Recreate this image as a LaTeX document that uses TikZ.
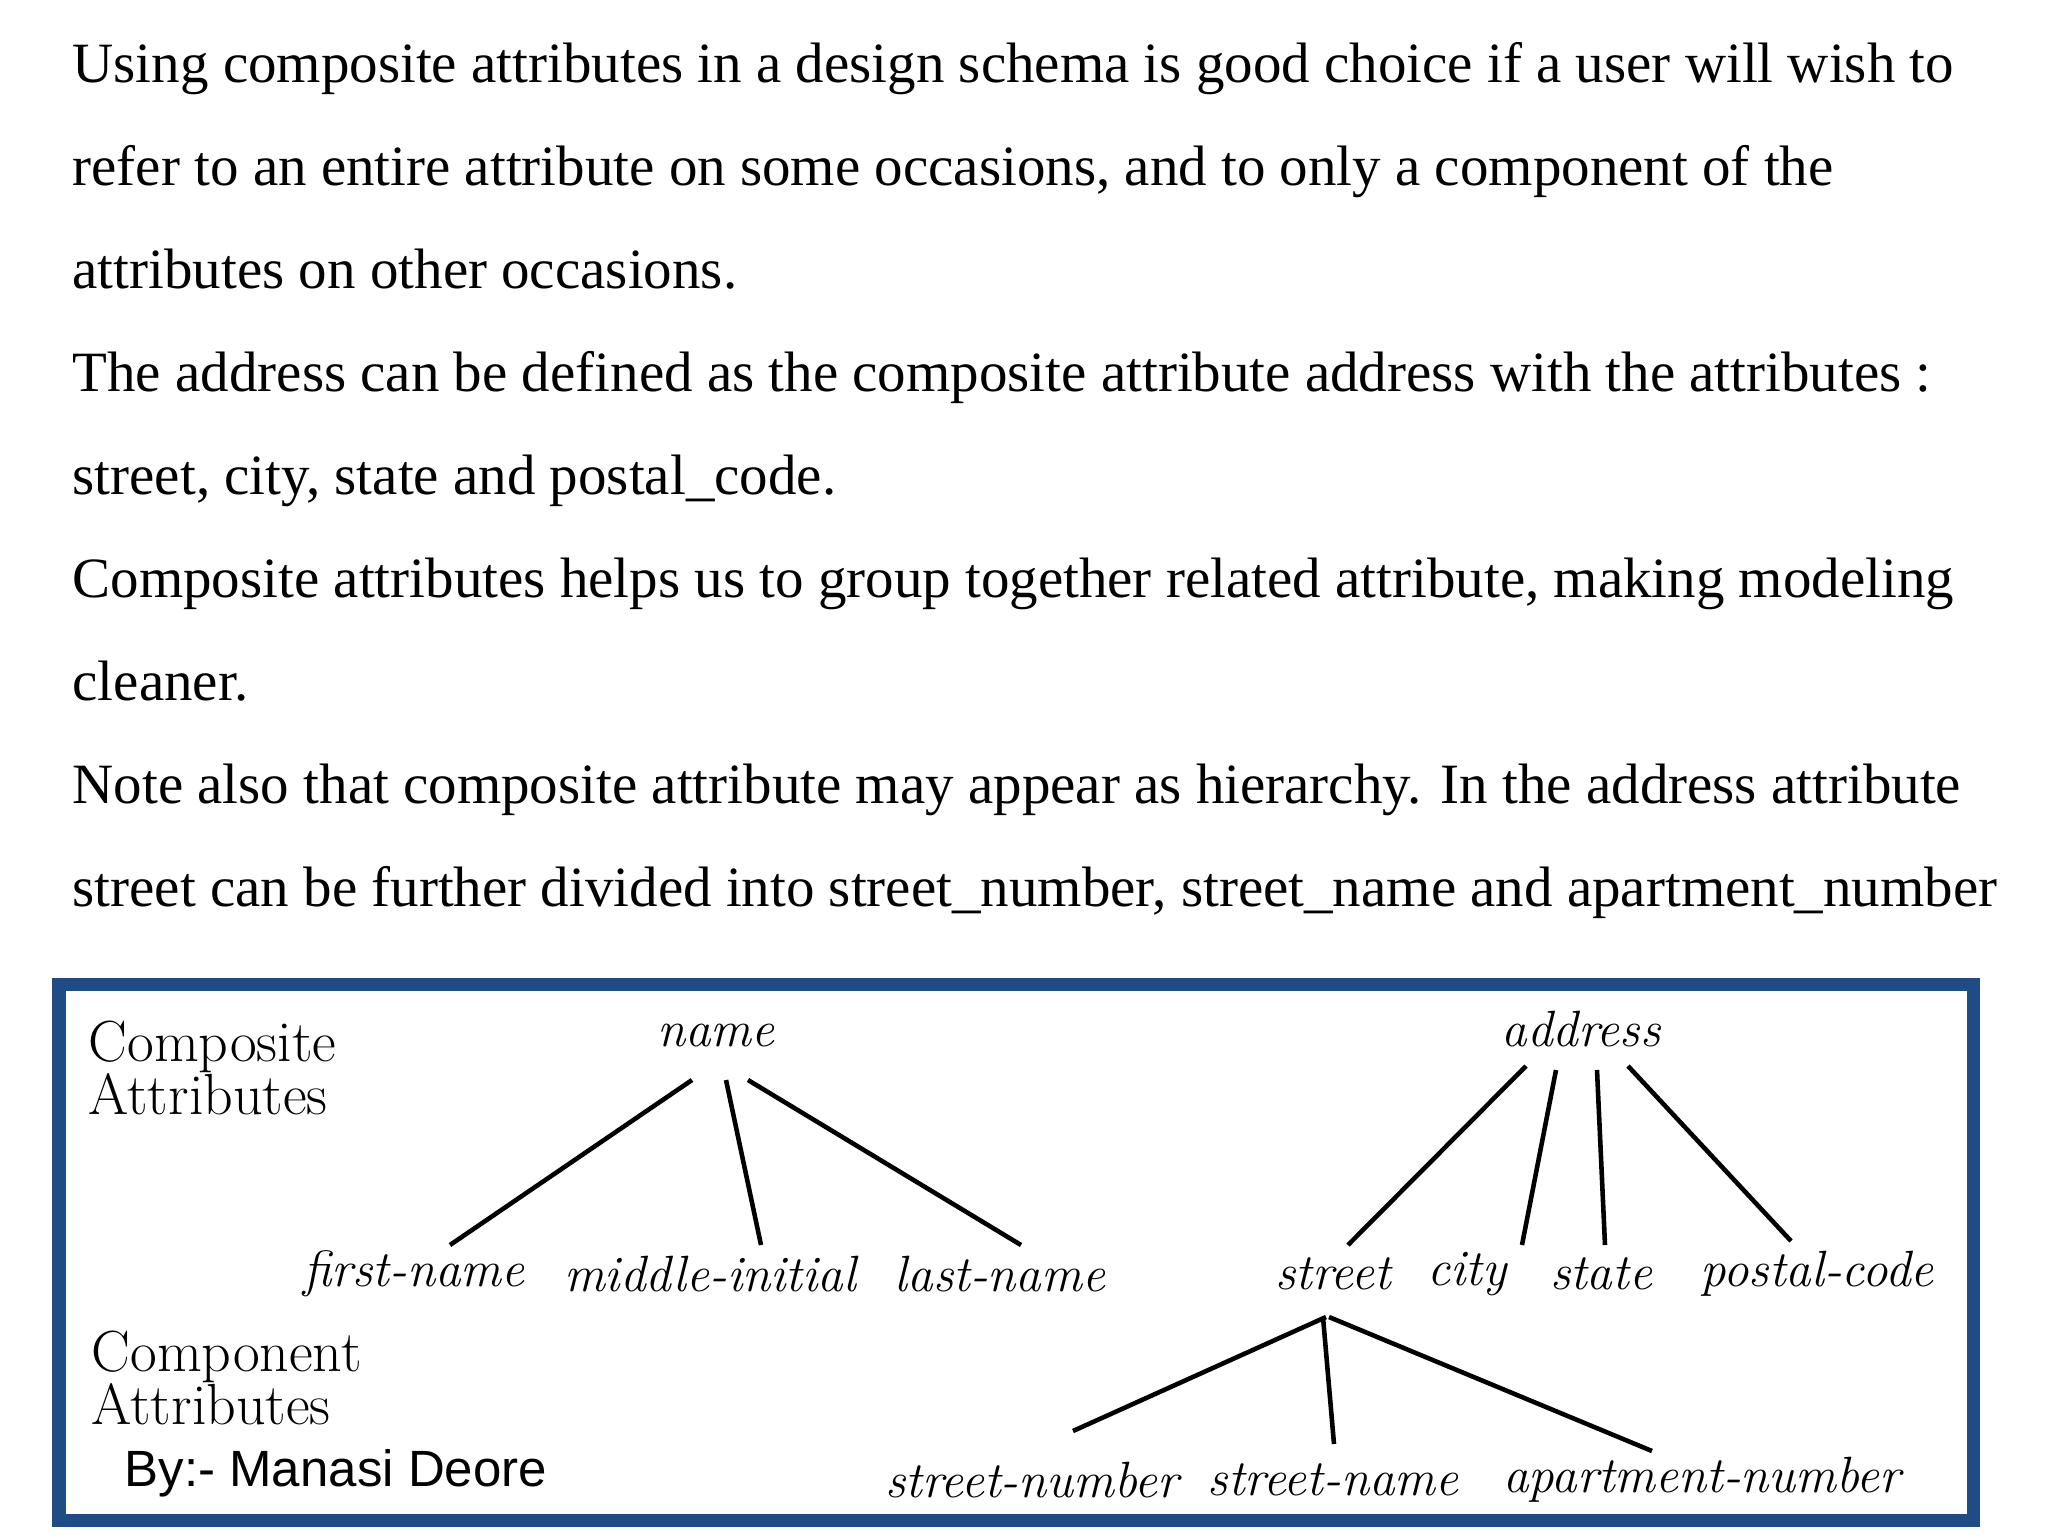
\documentclass[tikz,border=0pt]{standalone}
\usepackage{fontspec}
\setmainfont{Liberation Serif}
\newfontfamily\lmfont{Latin Modern Roman}
\setsansfont{Liberation Sans}
\definecolor{frame}{HTML}{1F4C85}
\begin{document}
\begin{tikzpicture}[x=0.01cm,y=-0.01cm,
  para/.style={anchor=base west,inner sep=0,font=\fontsize{16.2}{18}\selectfont},
  lab/.style={inner sep=0,font=\lmfont\itshape\fontsize{14.5}{17}\selectfont},
  side/.style={anchor=north west,inner sep=0,align=left,font=\lmfont\fontsize{16.5}{19}\selectfont},
  conn/.style={line width=1.3pt}]
\useasboundingbox (0,0) rectangle (2048,1536);
\fill[white] (0,0) rectangle (2048,1536);
\node[para] (p1) at (72,82) {Using composite attributes in a design schema is good choice if a user will wish to};
\node[para] (p2) at (72,185) {refer to an entire attribute on some occasions, and to only a component of the};
\node[para] (p3) at (72,288) {attributes on other occasions.};
\node[para] (p4) at (72,391) {The address can be defined as the composite attribute address with the attributes :};
\node[para] (p5) at (72,494) {street, city, state and postal\_code.};
\node[para] (p6) at (72,597) {Composite attributes helps us to group together related attribute, making modeling};
\node[para] (p7) at (72,700) {cleaner.};
\node[para] (p8) at (72,803) {Note also that composite attribute may appear as hierarchy. In the address attribute};
\node[para] (p9) at (72,906) {street can be further divided into street\_number, street\_name and apartment\_number};
\draw[frame,line width=0.13cm] (59,984) rectangle (1973,1520);
\node[side] (ca) at (88,1020) {Composite\\[-4pt]Attributes};
\node[side] (co) at (91,1330) {Component\\[-4pt]Attributes};
\node[anchor=west,inner sep=0,font=\sffamily\fontsize{14.5}{17}\selectfont] (by) at (124,1473) {By:- Manasi Deore};
\node[lab] (name) at (716,1035) {name};
\node[lab] (addr) at (1581,1029) {address};
\node[lab] (fn) at (414,1274) {first-name};
\node[lab] (mi) at (710,1274) {middle-initial};
\node[lab] (ln) at (1000,1274) {last-name};
\node[lab] (st) at (1333,1274) {street};
\node[lab] (ci) at (1467,1274) {city};
\node[lab] (sa) at (1601,1274) {state};
\node[lab] (pc) at (1817,1274) {postal-code};
\node[lab] (sn) at (1032,1480) {street-number};
\node[lab] (sm) at (1333,1480) {street-name};
\node[lab] (an) at (1702,1480) {apartment-number};
\draw[conn] (692,1080) coordinate (n1) -- (450,1245) coordinate (fnt);
\draw[conn] (726,1080) coordinate (n2) -- (761,1245) coordinate (mit);
\draw[conn] (748,1080) coordinate (n3) -- (1021,1245) coordinate (lnt);
\draw[conn] (1526,1066) coordinate (a1) -- (1348,1245) coordinate (stt);
\draw[conn] (1556,1070) coordinate (a2) -- (1522,1245) coordinate (cit);
\draw[conn] (1597,1070) coordinate (a3) -- (1605,1245) coordinate (sat);
\draw[conn] (1628,1066) coordinate (a4) -- (1791,1241) coordinate (pct);
\draw[conn] (1326,1317) coordinate (s1) -- (1073,1431) coordinate (snt);
\draw[conn] (1323,1317) coordinate (s2) -- (1334,1444) coordinate (smt);
\draw[conn] (1329,1317) coordinate (s3) -- (1652,1451) coordinate (ant);
\end{tikzpicture}
\end{document}
